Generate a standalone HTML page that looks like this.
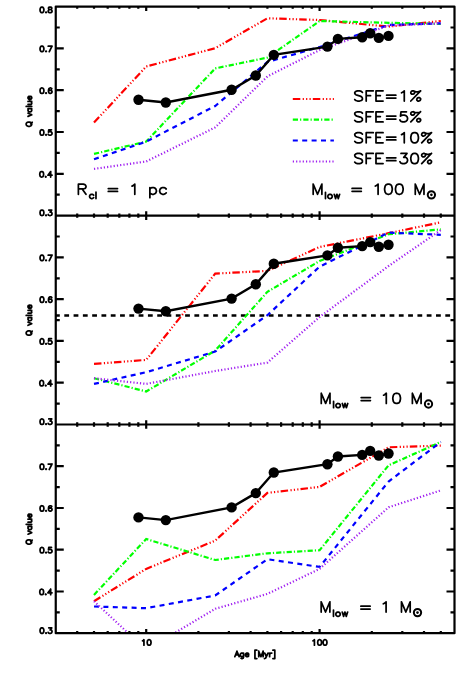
<!DOCTYPE html>
<html><head><meta charset="utf-8"><title>Q value vs Age</title>
<style>html,body{margin:0;padding:0;background:#fff}svg{display:block}</style></head>
<body>
<svg width="463" height="696" viewBox="0 0 463 696">
<defs>
<clipPath id="c0"><rect x="55.75" y="6.6" width="398.75" height="209.0"/></clipPath>
<clipPath id="c1"><rect x="55.75" y="215.6" width="398.75" height="208.9"/></clipPath>
<clipPath id="c2"><rect x="55.75" y="424.5" width="398.75" height="208.70000000000005"/></clipPath>
</defs>
<rect width="463" height="696" fill="#fff"/>
<g clip-path="url(#c0)" fill="none" stroke-width="2.2">
<path d="M94.0 122.6 L146.2 66.5 L215.2 48.2 L267.4 18.3 L319.6 20.0 L388.6 26.6 L440.8 21.0" stroke="#ff0000" stroke-dasharray="7.5 2.4 1.2 2.2 1.2 2.2 1.2 2.1"/>
<path d="M94.0 153.9 L146.2 141.6 L215.2 68.4 L267.4 57.6 L319.6 21.0 L388.6 22.8 L440.8 24.0" stroke="#00ff00" stroke-dasharray="5.2 2.05 1.2 2.05"/>
<path d="M94.0 159.2 L146.2 141.6 L215.2 106.0 L267.4 62.0 L319.6 47.0 L388.6 25.0 L440.8 23.3" stroke="#0000ff" stroke-dasharray="5 4.4"/>
<path d="M94.0 168.9 L146.2 161.5 L215.2 127.4 L267.4 76.5 L319.6 50.0 L388.6 25.6 L440.8 23.3" stroke="#a020f0" stroke-dasharray="1.2 2.1"/>
<path d="M138.5 99.8 L165.8 102.5 L231.6 89.8 L255.8 75.5 L273.8 54.9 L327.4 46.6 L337.9 38.9 L362.2 37.3 L370.2 33.3 L378.8 37.9 L388.5 35.9" stroke="#000" stroke-width="2.4"/>
<circle cx="138.5" cy="99.8" r="5.2" fill="#000" stroke="none"/>
<circle cx="165.8" cy="102.5" r="5.2" fill="#000" stroke="none"/>
<circle cx="231.6" cy="89.8" r="5.2" fill="#000" stroke="none"/>
<circle cx="255.8" cy="75.5" r="5.2" fill="#000" stroke="none"/>
<circle cx="273.8" cy="54.9" r="5.2" fill="#000" stroke="none"/>
<circle cx="327.4" cy="46.6" r="5.2" fill="#000" stroke="none"/>
<circle cx="337.9" cy="38.9" r="5.2" fill="#000" stroke="none"/>
<circle cx="362.2" cy="37.3" r="5.2" fill="#000" stroke="none"/>
<circle cx="370.2" cy="33.3" r="5.2" fill="#000" stroke="none"/>
<circle cx="378.8" cy="37.9" r="5.2" fill="#000" stroke="none"/>
<circle cx="388.5" cy="35.9" r="5.2" fill="#000" stroke="none"/>
</g>
<g clip-path="url(#c1)" fill="none" stroke-width="2.2">
<path d="M55.0 315.55H454.5" stroke="#000" stroke-width="2.4" stroke-dasharray="4.8 4.493"/>
<path d="M94.0 363.9 L146.2 359.9 L215.2 273.6 L267.4 270.9 L319.6 247.0 L388.6 233.2 L440.8 222.3" stroke="#ff0000" stroke-dasharray="7.5 2.4 1.2 2.2 1.2 2.2 1.2 2.1"/>
<path d="M94.0 378.2 L146.2 391.5 L215.2 350.6 L267.4 291.8 L319.6 261.0 L388.6 234.2 L440.8 229.4" stroke="#00ff00" stroke-dasharray="5.2 2.05 1.2 2.05"/>
<path d="M94.0 383.9 L146.2 372.2 L215.2 351.6 L267.4 315.2 L319.6 266.6 L388.6 232.6 L440.8 234.8" stroke="#0000ff" stroke-dasharray="5 4.4"/>
<path d="M94.0 378.2 L146.2 383.9 L215.2 371.0 L267.4 362.6 L319.6 317.0 L388.6 266.0 L440.8 230.0" stroke="#a020f0" stroke-dasharray="1.2 2.1"/>
<path d="M138.5 308.6 L165.8 311.3 L231.6 298.6 L255.8 284.3 L273.8 263.7 L327.4 255.4 L337.9 247.7 L362.2 246.1 L370.2 242.1 L378.8 246.7 L388.5 244.7" stroke="#000" stroke-width="2.4"/>
<circle cx="138.5" cy="308.6" r="5.2" fill="#000" stroke="none"/>
<circle cx="165.8" cy="311.3" r="5.2" fill="#000" stroke="none"/>
<circle cx="231.6" cy="298.6" r="5.2" fill="#000" stroke="none"/>
<circle cx="255.8" cy="284.3" r="5.2" fill="#000" stroke="none"/>
<circle cx="273.8" cy="263.7" r="5.2" fill="#000" stroke="none"/>
<circle cx="327.4" cy="255.4" r="5.2" fill="#000" stroke="none"/>
<circle cx="337.9" cy="247.7" r="5.2" fill="#000" stroke="none"/>
<circle cx="362.2" cy="246.1" r="5.2" fill="#000" stroke="none"/>
<circle cx="370.2" cy="242.1" r="5.2" fill="#000" stroke="none"/>
<circle cx="378.8" cy="246.7" r="5.2" fill="#000" stroke="none"/>
<circle cx="388.5" cy="244.7" r="5.2" fill="#000" stroke="none"/>
</g>
<g clip-path="url(#c2)" fill="none" stroke-width="2.2">
<path d="M94.0 601.2 L146.2 568.9 L215.2 540.6 L267.4 492.9 L319.6 486.9 L388.6 447.3 L440.8 445.6" stroke="#ff0000" stroke-dasharray="7.5 2.4 1.2 2.2 1.2 2.2 1.2 2.1"/>
<path d="M94.0 594.9 L146.2 539.0 L215.2 560.0 L267.4 553.3 L319.6 550.2 L388.6 465.3 L440.8 442.0" stroke="#00ff00" stroke-dasharray="5.2 2.05 1.2 2.05"/>
<path d="M94.0 606.5 L146.2 608.2 L215.2 595.5 L267.4 559.2 L319.6 566.9 L388.6 481.5 L440.8 442.0" stroke="#0000ff" stroke-dasharray="5 4.4"/>
<path d="M94.0 601.2 L146.2 650.0 L215.2 608.8 L267.4 593.9 L319.6 568.9 L388.6 507.3 L440.8 490.4" stroke="#a020f0" stroke-dasharray="1.2 2.1"/>
<path d="M138.5 517.4 L165.8 520.1 L231.6 507.4 L255.8 493.1 L273.8 472.5 L327.4 464.2 L337.9 456.5 L362.2 454.9 L370.2 450.9 L378.8 455.5 L388.5 453.5" stroke="#000" stroke-width="2.4"/>
<circle cx="138.5" cy="517.4" r="5.2" fill="#000" stroke="none"/>
<circle cx="165.8" cy="520.1" r="5.2" fill="#000" stroke="none"/>
<circle cx="231.6" cy="507.4" r="5.2" fill="#000" stroke="none"/>
<circle cx="255.8" cy="493.1" r="5.2" fill="#000" stroke="none"/>
<circle cx="273.8" cy="472.5" r="5.2" fill="#000" stroke="none"/>
<circle cx="327.4" cy="464.2" r="5.2" fill="#000" stroke="none"/>
<circle cx="337.9" cy="456.5" r="5.2" fill="#000" stroke="none"/>
<circle cx="362.2" cy="454.9" r="5.2" fill="#000" stroke="none"/>
<circle cx="370.2" cy="450.9" r="5.2" fill="#000" stroke="none"/>
<circle cx="378.8" cy="455.5" r="5.2" fill="#000" stroke="none"/>
<circle cx="388.5" cy="453.5" r="5.2" fill="#000" stroke="none"/>
</g>
<g stroke="#000" stroke-width="2.2" fill="none" stroke-linejoin="round">
<rect x="55.75" y="6.6" width="398.75" height="626.6"/>
<path d="M55.75 215.6H454.5M55.75 424.5H454.5"/>
<path d="M77.2 6.6v2.2M77.2 213.4v4.4M77.2 422.3v4.4M77.2 633.2v-2.2M94.0 6.6v2.2M94.0 213.4v4.4M94.0 422.3v4.4M94.0 633.2v-2.2M107.7 6.6v2.2M107.7 213.4v4.4M107.7 422.3v4.4M107.7 633.2v-2.2M119.3 6.6v2.2M119.3 213.4v4.4M119.3 422.3v4.4M119.3 633.2v-2.2M129.4 6.6v2.2M129.4 213.4v4.4M129.4 422.3v4.4M129.4 633.2v-2.2M138.3 6.6v2.2M138.3 213.4v4.4M138.3 422.3v4.4M138.3 633.2v-2.2M146.2 6.6v4.3M146.2 211.29999999999998v8.6M146.2 420.2v8.6M146.2 633.2v-4.3M198.4 6.6v2.2M198.4 213.4v4.4M198.4 422.3v4.4M198.4 633.2v-2.2M228.9 6.6v2.2M228.9 213.4v4.4M228.9 422.3v4.4M228.9 633.2v-2.2M250.6 6.6v2.2M250.6 213.4v4.4M250.6 422.3v4.4M250.6 633.2v-2.2M267.4 6.6v2.2M267.4 213.4v4.4M267.4 422.3v4.4M267.4 633.2v-2.2M281.1 6.6v2.2M281.1 213.4v4.4M281.1 422.3v4.4M281.1 633.2v-2.2M292.7 6.6v2.2M292.7 213.4v4.4M292.7 422.3v4.4M292.7 633.2v-2.2M302.8 6.6v2.2M302.8 213.4v4.4M302.8 422.3v4.4M302.8 633.2v-2.2M311.7 6.6v2.2M311.7 213.4v4.4M311.7 422.3v4.4M311.7 633.2v-2.2M319.6 6.6v4.3M319.6 211.29999999999998v8.6M319.6 420.2v8.6M319.6 633.2v-4.3M371.8 6.6v2.2M371.8 213.4v4.4M371.8 422.3v4.4M371.8 633.2v-2.2M402.3 6.6v2.2M402.3 213.4v4.4M402.3 422.3v4.4M402.3 633.2v-2.2M424.0 6.6v2.2M424.0 213.4v4.4M424.0 422.3v4.4M424.0 633.2v-2.2M440.8 6.6v2.2M440.8 213.4v4.4M440.8 422.3v4.4M440.8 633.2v-2.2M55.75 27.5h4M454.5 27.5h-4M55.75 48.4h8M454.5 48.4h-8M55.75 69.3h4M454.5 69.3h-4M55.75 90.2h8M454.5 90.2h-8M55.75 111.1h4M454.5 111.1h-4M55.75 132.0h8M454.5 132.0h-8M55.75 152.9h4M454.5 152.9h-4M55.75 173.8h8M454.5 173.8h-8M55.75 194.7h4M454.5 194.7h-4M55.75 236.5h4M454.5 236.5h-4M55.75 257.4h8M454.5 257.4h-8M55.75 278.3h4M454.5 278.3h-4M55.75 299.2h8M454.5 299.2h-8M55.75 320.1h4M454.5 320.1h-4M55.75 340.9h8M454.5 340.9h-8M55.75 361.8h4M454.5 361.8h-4M55.75 382.7h8M454.5 382.7h-8M55.75 403.6h4M454.5 403.6h-4M55.75 445.4h4M454.5 445.4h-4M55.75 466.2h8M454.5 466.2h-8M55.75 487.1h4M454.5 487.1h-4M55.75 508.0h8M454.5 508.0h-8M55.75 528.9h4M454.5 528.9h-4M55.75 549.7h8M454.5 549.7h-8M55.75 570.6h4M454.5 570.6h-4M55.75 591.5h8M454.5 591.5h-8M55.75 612.3h4M454.5 612.3h-4"/>
</g>
<path d="M41.69 7.17L40.87 7.43L40.33 8.21L40.06 9.51L40.06 10.29L40.33 11.59L40.87 12.37L41.69 12.63L42.23 12.63L43.05 12.37L43.59 11.59L43.87 10.29L43.87 9.51L43.59 8.21L43.05 7.43L42.23 7.17L41.69 7.17M46.04 12.11L45.77 12.37L46.04 12.63L46.31 12.37L46.04 12.11M49.58 7.17L48.76 7.43L48.49 7.95L48.49 8.47L48.76 8.99L49.30 9.25L50.39 9.51L51.21 9.77L51.75 10.29L52.02 10.81L52.02 11.59L51.75 12.11L51.48 12.37L50.66 12.63L49.58 12.63L48.76 12.37L48.49 12.11L48.22 11.59L48.22 10.81L48.49 10.29L49.03 9.77L49.85 9.51L50.94 9.25L51.48 8.99L51.75 8.47L51.75 7.95L51.48 7.43L50.66 7.17L49.58 7.17M41.69 46.17L40.87 46.43L40.33 47.21L40.06 48.51L40.06 49.29L40.33 50.59L40.87 51.37L41.69 51.63L42.23 51.63L43.05 51.37L43.59 50.59L43.87 49.29L43.87 48.51L43.59 47.21L43.05 46.43L42.23 46.17L41.69 46.17M46.04 51.11L45.77 51.37L46.04 51.63L46.31 51.37L46.04 51.11M52.02 46.17L49.30 51.63M48.22 46.17L52.02 46.17M41.69 87.97L40.87 88.23L40.33 89.01L40.06 90.31L40.06 91.09L40.33 92.39L40.87 93.17L41.69 93.43L42.23 93.43L43.05 93.17L43.59 92.39L43.87 91.09L43.87 90.31L43.59 89.01L43.05 88.23L42.23 87.97L41.69 87.97M46.04 92.91L45.77 93.17L46.04 93.43L46.31 93.17L46.04 92.91M51.75 88.75L51.48 88.23L50.66 87.97L50.12 87.97L49.30 88.23L48.76 89.01L48.49 90.31L48.49 91.61L48.76 92.65L49.30 93.17L50.12 93.43L50.39 93.43L51.21 93.17L51.75 92.65L52.02 91.87L52.02 91.61L51.75 90.83L51.21 90.31L50.39 90.05L50.12 90.05L49.30 90.31L48.76 90.83L48.49 91.61M41.69 129.77L40.87 130.03L40.33 130.81L40.06 132.11L40.06 132.89L40.33 134.19L40.87 134.97L41.69 135.23L42.23 135.23L43.05 134.97L43.59 134.19L43.87 132.89L43.87 132.11L43.59 130.81L43.05 130.03L42.23 129.77L41.69 129.77M46.04 134.71L45.77 134.97L46.04 135.23L46.31 134.97L46.04 134.71M51.48 129.77L48.76 129.77L48.49 132.11L48.76 131.85L49.58 131.59L50.39 131.59L51.21 131.85L51.75 132.37L52.02 133.15L52.02 133.67L51.75 134.45L51.21 134.97L50.39 135.23L49.58 135.23L48.76 134.97L48.49 134.71L48.22 134.19M41.42 171.57L40.60 171.83L40.06 172.61L39.78 173.91L39.78 174.69L40.06 175.99L40.60 176.77L41.42 177.03L41.96 177.03L42.78 176.77L43.32 175.99L43.59 174.69L43.59 173.91L43.32 172.61L42.78 171.83L41.96 171.57L41.42 171.57M45.77 176.51L45.50 176.77L45.77 177.03L46.04 176.77L45.77 176.51M50.66 171.57L47.94 175.21L52.02 175.21M50.66 171.57L50.66 177.03M41.69 255.15L40.87 255.41L40.33 256.19L40.06 257.49L40.06 258.27L40.33 259.57L40.87 260.35L41.69 260.61L42.23 260.61L43.05 260.35L43.59 259.57L43.87 258.27L43.87 257.49L43.59 256.19L43.05 255.41L42.23 255.15L41.69 255.15M46.04 260.09L45.77 260.35L46.04 260.61L46.31 260.35L46.04 260.09M52.02 255.15L49.30 260.61M48.22 255.15L52.02 255.15M41.69 296.93L40.87 297.19L40.33 297.97L40.06 299.27L40.06 300.05L40.33 301.35L40.87 302.13L41.69 302.39L42.23 302.39L43.05 302.13L43.59 301.35L43.87 300.05L43.87 299.27L43.59 297.97L43.05 297.19L42.23 296.93L41.69 296.93M46.04 301.87L45.77 302.13L46.04 302.39L46.31 302.13L46.04 301.87M51.75 297.71L51.48 297.19L50.66 296.93L50.12 296.93L49.30 297.19L48.76 297.97L48.49 299.27L48.49 300.57L48.76 301.61L49.30 302.13L50.12 302.39L50.39 302.39L51.21 302.13L51.75 301.61L52.02 300.83L52.02 300.57L51.75 299.79L51.21 299.27L50.39 299.01L50.12 299.01L49.30 299.27L48.76 299.79L48.49 300.57M41.69 338.71L40.87 338.97L40.33 339.75L40.06 341.05L40.06 341.83L40.33 343.13L40.87 343.91L41.69 344.17L42.23 344.17L43.05 343.91L43.59 343.13L43.87 341.83L43.87 341.05L43.59 339.75L43.05 338.97L42.23 338.71L41.69 338.71M46.04 343.65L45.77 343.91L46.04 344.17L46.31 343.91L46.04 343.65M51.48 338.71L48.76 338.71L48.49 341.05L48.76 340.79L49.58 340.53L50.39 340.53L51.21 340.79L51.75 341.31L52.02 342.09L52.02 342.61L51.75 343.39L51.21 343.91L50.39 344.17L49.58 344.17L48.76 343.91L48.49 343.65L48.22 343.13M41.42 380.49L40.60 380.75L40.06 381.53L39.78 382.83L39.78 383.61L40.06 384.91L40.60 385.69L41.42 385.95L41.96 385.95L42.78 385.69L43.32 384.91L43.59 383.61L43.59 382.83L43.32 381.53L42.78 380.75L41.96 380.49L41.42 380.49M45.77 385.43L45.50 385.69L45.77 385.95L46.04 385.69L45.77 385.43M50.66 380.49L47.94 384.13L52.02 384.13M50.66 380.49L50.66 385.95M41.69 464.01L40.87 464.27L40.33 465.05L40.06 466.35L40.06 467.13L40.33 468.43L40.87 469.21L41.69 469.47L42.23 469.47L43.05 469.21L43.59 468.43L43.87 467.13L43.87 466.35L43.59 465.05L43.05 464.27L42.23 464.01L41.69 464.01M46.04 468.95L45.77 469.21L46.04 469.47L46.31 469.21L46.04 468.95M52.02 464.01L49.30 469.47M48.22 464.01L52.02 464.01M41.69 505.75L40.87 506.01L40.33 506.79L40.06 508.09L40.06 508.87L40.33 510.17L40.87 510.95L41.69 511.21L42.23 511.21L43.05 510.95L43.59 510.17L43.87 508.87L43.87 508.09L43.59 506.79L43.05 506.01L42.23 505.75L41.69 505.75M46.04 510.69L45.77 510.95L46.04 511.21L46.31 510.95L46.04 510.69M51.75 506.53L51.48 506.01L50.66 505.75L50.12 505.75L49.30 506.01L48.76 506.79L48.49 508.09L48.49 509.39L48.76 510.43L49.30 510.95L50.12 511.21L50.39 511.21L51.21 510.95L51.75 510.43L52.02 509.65L52.02 509.39L51.75 508.61L51.21 508.09L50.39 507.83L50.12 507.83L49.30 508.09L48.76 508.61L48.49 509.39M41.69 547.49L40.87 547.75L40.33 548.53L40.06 549.83L40.06 550.61L40.33 551.91L40.87 552.69L41.69 552.95L42.23 552.95L43.05 552.69L43.59 551.91L43.87 550.61L43.87 549.83L43.59 548.53L43.05 547.75L42.23 547.49L41.69 547.49M46.04 552.43L45.77 552.69L46.04 552.95L46.31 552.69L46.04 552.43M51.48 547.49L48.76 547.49L48.49 549.83L48.76 549.57L49.58 549.31L50.39 549.31L51.21 549.57L51.75 550.09L52.02 550.87L52.02 551.39L51.75 552.17L51.21 552.69L50.39 552.95L49.58 552.95L48.76 552.69L48.49 552.43L48.22 551.91M41.42 589.23L40.60 589.49L40.06 590.27L39.78 591.57L39.78 592.35L40.06 593.65L40.60 594.43L41.42 594.69L41.96 594.69L42.78 594.43L43.32 593.65L43.59 592.35L43.59 591.57L43.32 590.27L42.78 589.49L41.96 589.23L41.42 589.23M45.77 594.17L45.50 594.43L45.77 594.69L46.04 594.43L45.77 594.17M50.66 589.23L47.94 592.87L52.02 592.87M50.66 589.23L50.66 594.69M41.69 210.07L40.87 210.33L40.33 211.11L40.06 212.41L40.06 213.19L40.33 214.49L40.87 215.27L41.69 215.53L42.23 215.53L43.05 215.27L43.59 214.49L43.87 213.19L43.87 212.41L43.59 211.11L43.05 210.33L42.23 210.07L41.69 210.07M46.04 215.01L45.77 215.27L46.04 215.53L46.31 215.27L46.04 215.01M48.76 210.07L51.75 210.07L50.12 212.15L50.94 212.15L51.48 212.41L51.75 212.67L52.02 213.45L52.02 213.97L51.75 214.75L51.21 215.27L50.39 215.53L49.58 215.53L48.76 215.27L48.49 215.01L48.22 214.49M41.69 418.97L40.87 419.23L40.33 420.01L40.06 421.31L40.06 422.09L40.33 423.39L40.87 424.17L41.69 424.43L42.23 424.43L43.05 424.17L43.59 423.39L43.87 422.09L43.87 421.31L43.59 420.01L43.05 419.23L42.23 418.97L41.69 418.97M46.04 423.91L45.77 424.17L46.04 424.43L46.31 424.17L46.04 423.91M48.76 418.97L51.75 418.97L50.12 421.05L50.94 421.05L51.48 421.31L51.75 421.57L52.02 422.35L52.02 422.87L51.75 423.65L51.21 424.17L50.39 424.43L49.58 424.43L48.76 424.17L48.49 423.91L48.22 423.39M41.69 627.87L40.87 628.13L40.33 628.91L40.06 630.21L40.06 630.99L40.33 632.29L40.87 633.07L41.69 633.33L42.23 633.33L43.05 633.07L43.59 632.29L43.87 630.99L43.87 630.21L43.59 628.91L43.05 628.13L42.23 627.87L41.69 627.87M46.04 632.81L45.77 633.07L46.04 633.33L46.31 633.07L46.04 632.81M48.76 627.87L51.75 627.87L50.12 629.95L50.94 629.95L51.48 630.21L51.75 630.47L52.02 631.25L52.02 631.77L51.75 632.55L51.21 633.07L50.39 633.33L49.58 633.33L48.76 633.07L48.49 632.81L48.22 632.29M142.58 640.78L143.13 640.52L143.94 639.74L143.94 645.20M148.84 639.74L148.02 640.00L147.48 640.78L147.21 642.08L147.21 642.86L147.48 644.16L148.02 644.94L148.84 645.20L149.38 645.20L150.20 644.94L150.74 644.16L151.02 642.86L151.02 642.08L150.74 640.78L150.20 640.00L149.38 639.74L148.84 639.74M313.06 640.78L313.61 640.52L314.42 639.74L314.42 645.20M319.32 639.74L318.50 640.00L317.96 640.78L317.69 642.08L317.69 642.86L317.96 644.16L318.50 644.94L319.32 645.20L319.86 645.20L320.68 644.94L321.22 644.16L321.50 642.86L321.50 642.08L321.22 640.78L320.68 640.00L319.86 639.74L319.32 639.74M324.76 639.74L323.94 640.00L323.40 640.78L323.13 642.08L323.13 642.86L323.40 644.16L323.94 644.94L324.76 645.20L325.30 645.20L326.12 644.94L326.66 644.16L326.94 642.86L326.94 642.08L326.66 640.78L326.12 640.00L325.30 639.74L324.76 639.74M236.98 651.24L234.81 656.70M236.98 651.24L239.16 656.70M235.62 654.88L238.34 654.88M243.51 653.06L243.51 657.22L243.24 658.00L242.97 658.26L242.42 658.52L241.61 658.52L241.06 658.26M243.51 653.84L242.97 653.32L242.42 653.06L241.61 653.06L241.06 653.32L240.52 653.84L240.25 654.62L240.25 655.14L240.52 655.92L241.06 656.44L241.61 656.70L242.42 656.70L242.97 656.44L243.51 655.92M245.42 654.62L248.68 654.62L248.68 654.10L248.41 653.58L248.14 653.32L247.59 653.06L246.78 653.06L246.23 653.32L245.69 653.84L245.42 654.62L245.42 655.14L245.69 655.92L246.23 656.44L246.78 656.70L247.59 656.70L248.14 656.44L248.68 655.92M254.94 650.20L254.94 658.52M254.94 650.20L256.84 650.20M254.94 658.52L256.84 658.52M258.74 651.24L258.74 656.70M258.74 651.24L260.92 656.70M263.10 651.24L260.92 656.70M263.10 651.24L263.10 656.70M264.73 653.06L266.36 656.70M267.99 653.06L266.36 656.70L265.82 657.74L265.27 658.26L264.73 658.52L264.46 658.52M269.62 653.06L269.62 656.70M269.62 654.62L269.90 653.84L270.44 653.32L270.98 653.06L271.80 653.06M274.79 650.20L274.79 658.52M272.89 650.20L274.79 650.20M272.89 658.52L274.79 658.52" fill="none" stroke="#000" stroke-width="1.75" stroke-linecap="round" stroke-linejoin="round"/>
<path transform="translate(31.7 111.3) rotate(-90)" d="M-13.40 -5.50L-13.94 -5.24L-14.47 -4.72L-14.74 -4.19L-15.01 -3.41L-15.01 -2.10L-14.74 -1.31L-14.47 -0.79L-13.94 -0.26L-13.40 0.00L-12.33 0.00L-11.79 -0.26L-11.26 -0.79L-10.99 -1.31L-10.72 -2.10L-10.72 -3.41L-10.99 -4.19L-11.26 -4.72L-11.79 -5.24L-12.33 -5.50L-13.40 -5.50M-12.60 -1.05L-10.99 0.52M-5.09 -3.67L-3.48 0.00M-1.88 -3.67L-3.48 0.00M2.68 -3.67L2.68 0.00M2.68 -2.88L2.14 -3.41L1.61 -3.67L0.80 -3.67L0.27 -3.41L-0.27 -2.88L-0.54 -2.10L-0.54 -1.57L-0.27 -0.79L0.27 -0.26L0.80 0.00L1.61 0.00L2.14 -0.26L2.68 -0.79M4.82 -5.50L4.82 0.00M6.97 -3.67L6.97 -1.05L7.24 -0.26L7.77 0.00L8.58 0.00L9.11 -0.26L9.92 -1.05M9.92 -3.67L9.92 0.00M11.79 -2.10L15.01 -2.10L15.01 -2.62L14.74 -3.14L14.47 -3.41L13.94 -3.67L13.13 -3.67L12.60 -3.41L12.06 -2.88L11.79 -2.10L11.79 -1.57L12.06 -0.79L12.60 -0.26L13.13 0.00L13.94 0.00L14.47 -0.26L15.01 -0.79" fill="none" stroke="#000" stroke-width="1.75" stroke-linecap="round" stroke-linejoin="round"/>
<path transform="translate(31.7 320.2) rotate(-90)" d="M-13.40 -5.50L-13.94 -5.24L-14.47 -4.72L-14.74 -4.19L-15.01 -3.41L-15.01 -2.10L-14.74 -1.31L-14.47 -0.79L-13.94 -0.26L-13.40 0.00L-12.33 0.00L-11.79 -0.26L-11.26 -0.79L-10.99 -1.31L-10.72 -2.10L-10.72 -3.41L-10.99 -4.19L-11.26 -4.72L-11.79 -5.24L-12.33 -5.50L-13.40 -5.50M-12.60 -1.05L-10.99 0.52M-5.09 -3.67L-3.48 0.00M-1.88 -3.67L-3.48 0.00M2.68 -3.67L2.68 0.00M2.68 -2.88L2.14 -3.41L1.61 -3.67L0.80 -3.67L0.27 -3.41L-0.27 -2.88L-0.54 -2.10L-0.54 -1.57L-0.27 -0.79L0.27 -0.26L0.80 0.00L1.61 0.00L2.14 -0.26L2.68 -0.79M4.82 -5.50L4.82 0.00M6.97 -3.67L6.97 -1.05L7.24 -0.26L7.77 0.00L8.58 0.00L9.11 -0.26L9.92 -1.05M9.92 -3.67L9.92 0.00M11.79 -2.10L15.01 -2.10L15.01 -2.62L14.74 -3.14L14.47 -3.41L13.94 -3.67L13.13 -3.67L12.60 -3.41L12.06 -2.88L11.79 -2.10L11.79 -1.57L12.06 -0.79L12.60 -0.26L13.13 0.00L13.94 0.00L14.47 -0.26L15.01 -0.79" fill="none" stroke="#000" stroke-width="1.75" stroke-linecap="round" stroke-linejoin="round"/>
<path transform="translate(31.7 529.1) rotate(-90)" d="M-13.40 -5.50L-13.94 -5.24L-14.47 -4.72L-14.74 -4.19L-15.01 -3.41L-15.01 -2.10L-14.74 -1.31L-14.47 -0.79L-13.94 -0.26L-13.40 0.00L-12.33 0.00L-11.79 -0.26L-11.26 -0.79L-10.99 -1.31L-10.72 -2.10L-10.72 -3.41L-10.99 -4.19L-11.26 -4.72L-11.79 -5.24L-12.33 -5.50L-13.40 -5.50M-12.60 -1.05L-10.99 0.52M-5.09 -3.67L-3.48 0.00M-1.88 -3.67L-3.48 0.00M2.68 -3.67L2.68 0.00M2.68 -2.88L2.14 -3.41L1.61 -3.67L0.80 -3.67L0.27 -3.41L-0.27 -2.88L-0.54 -2.10L-0.54 -1.57L-0.27 -0.79L0.27 -0.26L0.80 0.00L1.61 0.00L2.14 -0.26L2.68 -0.79M4.82 -5.50L4.82 0.00M6.97 -3.67L6.97 -1.05L7.24 -0.26L7.77 0.00L8.58 0.00L9.11 -0.26L9.92 -1.05M9.92 -3.67L9.92 0.00M11.79 -2.10L15.01 -2.10L15.01 -2.62L14.74 -3.14L14.47 -3.41L13.94 -3.67L13.13 -3.67L12.60 -3.41L12.06 -2.88L11.79 -2.10L11.79 -1.57L12.06 -0.79L12.60 -0.26L13.13 0.00L13.94 0.00L14.47 -0.26L15.01 -0.79" fill="none" stroke="#000" stroke-width="1.75" stroke-linecap="round" stroke-linejoin="round"/>
<g fill="none" stroke-width="2.2">
<path d="M292.8 99.0H333.9" stroke="#ff0000" stroke-dasharray="7.5 2.4 1.2 2.2 1.2 2.2 1.2 2.1"/>
<path d="M292.8 119.6H333.9" stroke="#00ff00" stroke-dasharray="5.2 2.05 1.2 2.05"/>
<path d="M292.8 140.5H333.9" stroke="#0000ff" stroke-dasharray="5 4.4"/>
<path d="M292.8 161.5H333.9" stroke="#a020f0" stroke-dasharray="1.2 2.1"/>
</g>
<path d="M362.39 92.31L361.30 91.34L359.67 90.86L357.49 90.86L355.86 91.34L354.77 92.31L354.77 93.27L355.32 94.24L355.86 94.72L356.95 95.20L360.21 96.17L361.30 96.65L361.85 97.14L362.39 98.10L362.39 99.55L361.30 100.52L359.67 101.00L357.49 101.00L355.86 100.52L354.77 99.55M366.20 90.86L366.20 101.00M366.20 90.86L373.27 90.86M366.20 95.69L370.55 95.69M375.99 90.86L375.99 101.00M375.99 90.86L383.06 90.86M375.99 95.69L380.34 95.69M375.99 101.00L383.06 101.00M386.60 95.20L395.85 95.20M386.60 98.10L395.85 98.10M401.56 92.79L402.65 92.31L404.28 90.86L404.28 101.00M420.60 90.86L410.81 101.00M413.53 90.86L414.61 91.82L414.61 92.79L414.07 93.75L412.98 94.24L411.89 94.24L410.81 93.27L410.81 92.31L411.35 91.34L412.44 90.86L413.53 90.86L414.61 91.34L416.25 91.82L417.88 91.82L419.51 91.34L420.60 90.86M418.42 97.62L417.33 98.10L416.79 99.07L416.79 100.03L417.88 101.00L418.97 101.00L420.05 100.52L420.60 99.55L420.60 98.58L419.51 97.62L418.42 97.62M362.39 113.21L361.30 112.24L359.67 111.76L357.49 111.76L355.86 112.24L354.77 113.21L354.77 114.17L355.32 115.14L355.86 115.62L356.95 116.10L360.21 117.07L361.30 117.55L361.85 118.04L362.39 119.00L362.39 120.45L361.30 121.42L359.67 121.90L357.49 121.90L355.86 121.42L354.77 120.45M366.20 111.76L366.20 121.90M366.20 111.76L373.27 111.76M366.20 116.59L370.55 116.59M375.99 111.76L375.99 121.90M375.99 111.76L383.06 111.76M375.99 116.59L380.34 116.59M375.99 121.90L383.06 121.90M386.60 116.10L395.85 116.10M386.60 119.00L395.85 119.00M406.45 111.76L401.01 111.76L400.47 116.10L401.01 115.62L402.65 115.14L404.28 115.14L405.91 115.62L407.00 116.59L407.54 118.04L407.54 119.00L407.00 120.45L405.91 121.42L404.28 121.90L402.65 121.90L401.01 121.42L400.47 120.93L399.93 119.97M420.60 111.76L410.81 121.90M413.53 111.76L414.61 112.72L414.61 113.69L414.07 114.66L412.98 115.14L411.89 115.14L410.81 114.17L410.81 113.21L411.35 112.24L412.44 111.76L413.53 111.76L414.61 112.24L416.25 112.72L417.88 112.72L419.51 112.24L420.60 111.76M418.42 118.52L417.33 119.00L416.79 119.97L416.79 120.93L417.88 121.90L418.97 121.90L420.05 121.42L420.60 120.45L420.60 119.48L419.51 118.52L418.42 118.52M362.39 134.11L361.30 133.14L359.67 132.66L357.49 132.66L355.86 133.14L354.77 134.11L354.77 135.07L355.32 136.04L355.86 136.52L356.95 137.00L360.21 137.97L361.30 138.45L361.85 138.94L362.39 139.90L362.39 141.35L361.30 142.32L359.67 142.80L357.49 142.80L355.86 142.32L354.77 141.35M366.20 132.66L366.20 142.80M366.20 132.66L373.27 132.66M366.20 137.49L370.55 137.49M375.99 132.66L375.99 142.80M375.99 132.66L383.06 132.66M375.99 137.49L380.34 137.49M375.99 142.80L383.06 142.80M386.60 137.00L395.85 137.00M386.60 139.90L395.85 139.90M401.56 134.59L402.65 134.11L404.28 132.66L404.28 142.80M414.07 132.66L412.44 133.14L411.35 134.59L410.81 137.00L410.81 138.45L411.35 140.87L412.44 142.32L414.07 142.80L415.16 142.80L416.79 142.32L417.88 140.87L418.42 138.45L418.42 137.00L417.88 134.59L416.79 133.14L415.16 132.66L414.07 132.66M431.48 132.66L421.69 142.80M424.41 132.66L425.50 133.62L425.50 134.59L424.95 135.56L423.86 136.04L422.77 136.04L421.69 135.07L421.69 134.11L422.23 133.14L423.32 132.66L424.41 132.66L425.50 133.14L427.13 133.62L428.76 133.62L430.39 133.14L431.48 132.66M429.30 139.42L428.21 139.90L427.67 140.87L427.67 141.83L428.76 142.80L429.85 142.80L430.93 142.32L431.48 141.35L431.48 140.39L430.39 139.42L429.30 139.42M362.39 154.91L361.30 153.94L359.67 153.46L357.49 153.46L355.86 153.94L354.77 154.91L354.77 155.87L355.32 156.84L355.86 157.32L356.95 157.80L360.21 158.77L361.30 159.25L361.85 159.74L362.39 160.70L362.39 162.15L361.30 163.12L359.67 163.60L357.49 163.60L355.86 163.12L354.77 162.15M366.20 153.46L366.20 163.60M366.20 153.46L373.27 153.46M366.20 158.29L370.55 158.29M375.99 153.46L375.99 163.60M375.99 153.46L383.06 153.46M375.99 158.29L380.34 158.29M375.99 163.60L383.06 163.60M386.60 157.80L395.85 157.80M386.60 160.70L395.85 160.70M401.01 153.46L407.00 153.46L403.73 157.32L405.37 157.32L406.45 157.80L407.00 158.29L407.54 159.74L407.54 160.70L407.00 162.15L405.91 163.12L404.28 163.60L402.65 163.60L401.01 163.12L400.47 162.63L399.93 161.67M414.07 153.46L412.44 153.94L411.35 155.39L410.81 157.80L410.81 159.25L411.35 161.67L412.44 163.12L414.07 163.60L415.16 163.60L416.79 163.12L417.88 161.67L418.42 159.25L418.42 157.80L417.88 155.39L416.79 153.94L415.16 153.46L414.07 153.46M431.48 153.46L421.69 163.60M424.41 153.46L425.50 154.42L425.50 155.39L424.95 156.35L423.86 156.84L422.77 156.84L421.69 155.87L421.69 154.91L422.23 153.94L423.32 153.46L424.41 153.46L425.50 153.94L427.13 154.42L428.76 154.42L430.39 153.94L431.48 153.46M429.30 160.22L428.21 160.70L427.67 161.67L427.67 162.63L428.76 163.60L429.85 163.60L430.93 163.12L431.48 162.15L431.48 161.19L430.39 160.22L429.30 160.22M313.18 184.11L313.18 194.25M313.18 184.11L317.53 194.25M321.88 184.11L317.53 194.25M321.88 184.11L321.88 194.25M325.48 192.25L325.48 198.55M329.52 194.35L328.85 194.65L328.17 195.25L327.83 196.15L327.83 196.75L328.17 197.65L328.85 198.25L329.52 198.55L330.53 198.55L331.20 198.25L331.88 197.65L332.22 196.75L332.22 196.15L331.88 195.25L331.20 194.65L330.53 194.35L329.52 194.35M334.24 194.35L335.59 198.55M336.93 194.35L335.59 198.55M336.93 194.35L338.28 198.55M339.63 194.35L338.28 198.55M352.07 188.45L361.32 188.45M352.07 191.35L361.32 191.35M375.38 186.04L376.46 185.56L378.09 184.11L378.09 194.25M387.89 184.11L386.25 184.59L385.17 186.04L384.62 188.45L384.62 189.90L385.17 192.32L386.25 193.77L387.89 194.25L388.97 194.25L390.61 193.77L391.69 192.32L392.24 189.90L392.24 188.45L391.69 186.04L390.61 184.59L388.97 184.11L387.89 184.11M398.77 184.11L397.13 184.59L396.05 186.04L395.50 188.45L395.50 189.90L396.05 192.32L397.13 193.77L398.77 194.25L399.86 194.25L401.49 193.77L402.57 192.32L403.12 189.90L403.12 188.45L402.57 186.04L401.49 184.59L399.86 184.11L398.77 184.11M415.27 184.11L415.27 194.25M415.27 184.11L419.63 194.25M423.98 184.11L419.63 194.25M423.98 184.11L423.98 194.25M321.27 393.26L321.27 403.40M321.27 393.26L325.63 403.40M329.98 393.26L325.63 403.40M329.98 393.26L329.98 403.40M333.57 401.40L333.57 407.70M337.62 403.50L336.94 403.80L336.27 404.40L335.93 405.30L335.93 405.90L336.27 406.80L336.94 407.40L337.62 407.70L338.63 407.70L339.30 407.40L339.98 406.80L340.31 405.90L340.31 405.30L339.98 404.40L339.30 403.80L338.63 403.50L337.62 403.50M342.34 403.50L343.69 407.70M345.03 403.50L343.69 407.70M345.03 403.50L346.38 407.70M347.73 403.50L346.38 407.70M361.18 397.60L370.42 397.60M361.18 400.50L370.42 400.50M383.57 395.19L384.66 394.71L386.29 393.26L386.29 403.40M396.09 393.26L394.45 393.74L393.37 395.19L392.82 397.60L392.82 399.05L393.37 401.47L394.45 402.92L396.09 403.40L397.17 403.40L398.81 402.92L399.89 401.47L400.44 399.05L400.44 397.60L399.89 395.19L398.81 393.74L397.17 393.26L396.09 393.26M412.38 393.26L412.38 403.40M412.38 393.26L416.73 403.40M421.08 393.26L416.73 403.40M421.08 393.26L421.08 403.40M321.18 601.86L321.18 612.00M321.18 601.86L325.53 612.00M329.88 601.86L325.53 612.00M329.88 601.86L329.88 612.00M333.48 610.00L333.48 616.30M337.52 612.10L336.85 612.40L336.17 613.00L335.83 613.90L335.83 614.50L336.17 615.40L336.85 616.00L337.52 616.30L338.53 616.30L339.20 616.00L339.88 615.40L340.22 614.50L340.22 613.90L339.88 613.00L339.20 612.40L338.53 612.10L337.52 612.10M342.24 612.10L343.59 616.30M344.93 612.10L343.59 616.30M344.93 612.10L346.28 616.30M347.63 612.10L346.28 616.30M360.88 606.20L370.12 606.20M360.88 609.10L370.12 609.10M383.38 603.79L384.46 603.31L386.09 601.86L386.09 612.00M401.48 601.86L401.48 612.00M401.48 601.86L405.83 612.00M410.18 601.86L405.83 612.00M410.18 601.86L410.18 612.00M78.38 184.16L78.38 194.30M78.38 184.16L83.27 184.16L84.90 184.64L85.45 185.12L85.99 186.09L85.99 187.06L85.45 188.02L84.90 188.50L83.27 188.99L78.38 188.99M82.18 188.99L85.99 194.30M93.62 195.20L92.95 194.60L92.27 194.30L91.26 194.30L90.59 194.60L89.91 195.20L89.58 196.10L89.58 196.70L89.91 197.60L90.59 198.20L91.26 198.50L92.27 198.50L92.95 198.20L93.62 197.60M95.98 192.20L95.98 198.50M108.28 188.50L117.52 188.50M108.28 191.40L117.52 191.40M132.07 186.09L133.16 185.61L134.79 184.16L134.79 194.30M149.88 187.54L149.88 197.68M149.88 188.99L150.96 188.02L152.05 187.54L153.68 187.54L154.77 188.02L155.86 188.99L156.40 190.44L156.40 191.40L155.86 192.85L154.77 193.82L153.68 194.30L152.05 194.30L150.96 193.82L149.88 192.85M166.20 188.99L165.11 188.02L164.02 187.54L162.39 187.54L161.30 188.02L160.21 188.99L159.67 190.44L159.67 191.40L160.21 192.85L161.30 193.82L162.39 194.30L164.02 194.30L165.11 193.82L166.20 192.85" fill="none" stroke="#000" stroke-width="1.75" stroke-linecap="round" stroke-linejoin="round"/>
<circle cx="431.4" cy="194.85" r="3.65" fill="none" stroke="#000" stroke-width="2.0"/><circle cx="431.4" cy="194.85" r="1.3" fill="#000"/>
<circle cx="428.5" cy="404.0" r="3.65" fill="none" stroke="#000" stroke-width="2.0"/><circle cx="428.5" cy="404.0" r="1.3" fill="#000"/>
<circle cx="417.5" cy="612.6" r="3.65" fill="none" stroke="#000" stroke-width="2.0"/><circle cx="417.5" cy="612.6" r="1.3" fill="#000"/>
</svg>
</body></html>
